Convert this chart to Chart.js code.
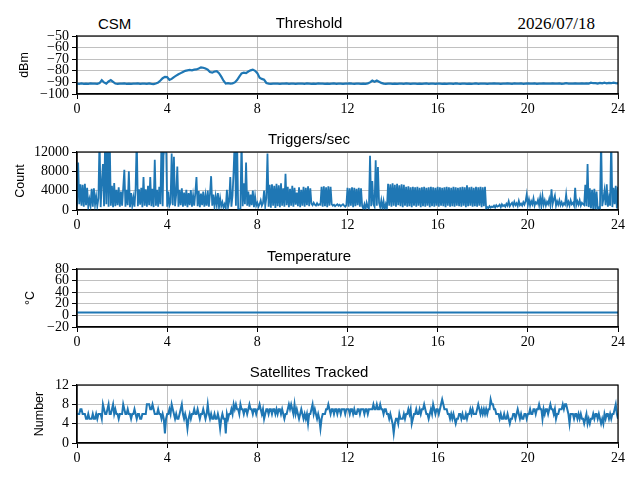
<!DOCTYPE html>
<html>
<head>
<meta charset="utf-8">
<script src="https://cdn.jsdelivr.net/npm/chart.js@4.4.1/dist/chart.umd.min.js"></script>
<style>
    html, body { margin: 0; padding: 0; background: #fff; }
    body { width: 640px; height: 480px; position: relative; overflow: hidden; }
    canvas { position: absolute; left: 0; }
    .note { position: absolute; white-space: nowrap; color: #000; }
    #csm { left: 98px; top: 15.5px; font: 15px "Liberation Sans", sans-serif; line-height: 15px; }
    #date { right: 45px; top: 14.5px; font: 17px "Liberation Serif", serif; line-height: 17px; }
</style>
</head>
<body>
<div class="note" id="csm">CSM</div>
<div class="note" id="date">2026/07/18</div>
<canvas id="threshold-chart" width="640" height="120" style="top:0px"></canvas>
<canvas id="trigger-chart" width="640" height="120" style="top:116px"></canvas>
<canvas id="temperature-chart" width="640" height="120" style="top:233px"></canvas>
<canvas id="satellite-chart" width="640" height="120" style="top:349px"></canvas>
<script>
// x axis: hours of the day
const hourTicks = [0, 4, 8, 12, 16, 20, 24];

// threshold (dBm), one sample every 0.1 h
const thresholdDbm = [
    -91, -91.2, -90.9, -91.3, -91, -91.2, -90.8, -91.1, -91, -91.2,
    -90.6, -88, -90, -91, -89.2, -88, -89.5, -91, -91.2, -91,
    -91.1, -90.9, -91.2, -91, -91.3, -91, -91.1, -90.8, -91.2, -91,
    -91.1, -91.3, -90.9, -91.2, -91.4, -91, -90.2, -88.4, -86.4, -85.2,
    -85.4, -87.8, -87, -85.4, -84.2, -83, -82, -81, -80, -79.6,
    -79.2, -79.6, -79, -78.8, -78, -77, -77.4, -78, -79, -81,
    -81.6, -80.6, -80.4, -82, -85, -88.5, -91, -90.6, -91, -90.8,
    -90, -88, -85, -82.2, -81.6, -82, -80.6, -79.6, -79, -80,
    -82, -86, -87, -87.6, -90.5, -91, -91.2, -91, -91.1, -91,
    -91.2, -91, -91.1, -90.9, -91.2, -91, -91.1, -91.3, -91, -91.1,
    -91, -91.2, -90.9, -91.1, -91.3, -91, -91.2, -90.9, -91.1, -91,
    -91.2, -91, -91.3, -91.1, -90.9, -91.2, -91, -91.1, -91.3, -91,
    -91, -90.9, -91.1, -91.2, -91, -91.1, -91.3, -91, -91.2, -90.8,
    -90, -88.4, -89.4, -88.4, -89.4, -90.4, -91, -91.2, -91, -91.1,
    -91.2, -91, -91.3, -91.1, -91, -91.2, -90.9, -91.1, -91.3, -91,
    -91.1, -91.2, -91, -91.3, -91.1, -90.9, -91.2, -91, -91.1, -91.2,
    -91, -91.1, -91.2, -91, -91.3, -91.1, -91, -91.2, -90.9, -91.1,
    -91.2, -91, -91.1, -91.3, -91, -91.2, -91.1, -90.9, -91.2, -91,
    -91.1, -91, -91.2, -91.1, -91, -90.9, -91.1, -91, -91.2, -91,
    -91.1, -90.9, -91, -91.2, -90.8, -91.1, -91, -90.9, -91.2, -91,
    -90.9, -91.1, -91, -90.8, -91.2, -91, -91.1, -90.9, -91, -91.1,
    -91, -90.8, -91.1, -91, -90.9, -91.2, -91, -90.6, -91, -91.1,
    -91, -90.9, -91.1, -91, -90.8, -91.1, -90.9, -91, -90.2, -90.7,
    -90.6, -91, -90.4, -90.8, -90.3, -90.9, -90.5, -90.7, -90.2, -90.6,
    -90.8
];

// triggers per second, one sample every 0.05 h
const triggerCounts = [
    800, 9800, 1200, 5300, 900, 5200, 700, 5400, 1000, 4600, 600, 2200, 900, 4400, 700, 4500, 1100, 2800, 800, 2400,
    15000, 600, 5600, 9500, 800, 15000, 1200, 15000, 700, 15000, 900, 5000, 600, 5600, 800, 4200, 1000, 4700, 700, 3800,
    900, 4600, 8300, 700, 4200, 1000, 8000, 600, 3500, 900, 2600, 700, 4400, 15000, 800, 4300, 1100, 4600, 600, 6800,
    900, 4300, 700, 5000, 1000, 6800, 800, 4400, 600, 10400, 900, 4200, 700, 4800, 1200, 15000, 800, 15000, 13000, 15000,
    700, 3800, 900, 1500, 11700, 1000, 11000, 800, 3200, 9000, 700, 4200, 1000, 4500, 700, 3600, 900, 4200, 600, 3500,
    1000, 4100, 700, 3000, 900, 3600, 6800, 800, 3900, 600, 3400, 1000, 3800, 700, 3000, 900, 4000, 700, 3300, 7000,
    900, 3200, 700, 2800, 1000, 3500, 600, 2400, 800, 1600, 500, 1200, 400, 4200, 600, 1800, 6800, 700, 3000, 8300,
    15000, 900, 15000, 200, 100, 300, 15000, 800, 5500, 1200, 9800, 900, 3800, 700, 3200, 1000, 4000, 600, 2800, 900,
    1500, 700, 1200, 2000, 900, 1400, 4000, 800, 2500, 11700, 700, 5200, 500, 5300, 900, 5000, 400, 5400, 800, 5100,
    600, 5500, 900, 4500, 700, 7500, 1000, 4800, 600, 4400, 900, 5000, 700, 4600, 1100, 3600, 800, 4700, 600, 4200,
    900, 4800, 700, 4600, 1000, 4900, 800, 4500, 1300, 1000, 1500, 1100, 900, 1400, 1000, 1200, 1100, 4800, 700, 4900,
    800, 4700, 600, 4900, 900, 4800, 1200, 900, 1100, 800, 1000, 1200, 900, 1100, 800, 1000, 1200, 900, 700, 1000,
    4600, 700, 4500, 900, 4700, 600, 4600, 800, 4400, 1000, 4600, 700, 4500, 800, 300, 1200, 100, 1500, 600, 200,
    11200, 800, 6000, 1200, 700, 10300, 900, 8900, 1500, 600, 2000, 300, 1800, 100, 1200, 400, 5400, 900, 5300, 700,
    5500, 900, 5200, 700, 5400, 1000, 5100, 800, 5300, 600, 5200, 900, 4800, 700, 4900, 800, 4700, 600, 4800, 900,
    4700, 700, 4800, 900, 4600, 600, 4700, 800, 4800, 700, 4600, 900, 4700, 600, 4800, 800, 4700, 700, 4600, 900,
    4800, 700, 4700, 900, 4600, 800, 4700, 600, 4800, 900, 4700, 700, 4600, 800, 4800, 700, 4700, 900, 4600, 800,
    4700, 700, 4800, 900, 4700, 600, 5100, 800, 4700, 900, 4800, 700, 4600, 800, 4800, 700, 4700, 900, 4800, 600,
    4700, 800, 4800, 300, 600, 400, 800, 500, 700, 600, 900, 500, 1000, 700, 800, 1100, 600, 1200, 800, 1000,
    700, 1300, 900, 1800, 800, 1200, 1500, 900, 1700, 1000, 1400, 800, 1900, 1000, 1300, 900, 1600, 1100, 1800, 3200,
    1000, 2200, 900, 1800, 1200, 2400, 900, 1600, 1300, 2100, 1000, 2600, 800, 2900, 1100, 2000, 900, 1700, 1200, 2300,
    1000, 4300, 1200, 2200, 3000, 900, 1800, 1100, 2000, 1000, 1600, 900, 1400, 1100, 3200, 1000, 1700, 900, 2000, 1200,
    1500, 900, 4600, 1000, 1800, 1100, 2000, 900, 1500, 1200, 1000, 5200, 800, 9500, 600, 4500, 300, 4200, 200, 4400,
    100, 3800, 200, 500, 300, 15000, 800, 2200, 4000, 1000, 5300, 700, 2500, 900, 15000, 600, 4600, 1200, 5000, 300,
    4800
];

// temperature (°C), hourly
const temperatureC = [5, 5, 5, 5, 5, 5, 5, 5, 5, 5, 5, 5, 5, 5, 5, 5, 5, 5, 5, 5, 5, 5, 5, 5, 5];

// satellites tracked, one sample every 0.05 h
const satellitesTracked = [
    6, 6, 6, 7, 7, 6, 6, 6, 5, 5, 6, 5, 5, 5, 6, 5, 5, 6, 5, 6,
    6, 6, 5, 8, 7, 6, 6, 7, 8, 6, 6, 7, 8, 6, 7, 6, 6, 5, 6, 6,
    6, 8, 7, 6, 6, 7, 6, 6, 5, 6, 6, 7, 6, 5, 6, 6, 5, 5, 6, 6,
    6, 6, 8, 8, 8, 7, 7, 8, 7, 6, 6, 6, 7, 6, 6, 5, 6, 5, 2, 5,
    6, 6, 7, 6, 8, 7, 6, 5, 6, 5, 5, 6, 7, 8, 6, 5, 6, 5, 3, 5,
    6, 5, 6, 6, 7, 6, 6, 7, 6, 5, 6, 6, 7, 6, 5, 6, 8, 6, 5, 6,
    5, 5, 6, 5, 5, 6, 5, 3, 5, 6, 5, 5, 2, 6, 5, 6, 6, 7, 6, 8,
    7, 8, 7, 7, 6, 8, 7, 7, 6, 7, 7, 6, 7, 8, 7, 7, 6, 7, 7, 6,
    7, 7, 8, 7, 6, 7, 5, 6, 7, 7, 6, 7, 7, 6, 7, 7, 6, 7, 6, 7,
    7, 6, 7, 6, 5, 6, 6, 7, 8, 7, 8, 7, 6, 8, 6, 7, 6, 5, 6, 7,
    6, 5, 6, 5, 6, 4, 6, 6, 7, 8, 6, 7, 6, 5, 6, 5, 3, 5, 6, 6,
    6, 7, 7, 8, 7, 6, 7, 7, 6, 7, 7, 6, 7, 7, 6, 7, 7, 7, 6, 7,
    7, 7, 6, 7, 7, 6, 7, 6, 6, 7, 7, 6, 7, 7, 7, 6, 7, 7, 6, 7,
    7, 7, 7, 8, 7, 7, 8, 7, 7, 8, 7, 7, 6, 7, 7, 6, 6, 5, 6, 5,
    4, 2, 4, 5, 5, 4, 6, 5, 5, 5, 6, 5, 6, 6, 7, 6, 7, 4, 5, 6,
    6, 7, 6, 6, 7, 6, 7, 7, 8, 7, 6, 6, 5, 6, 7, 6, 8, 7, 6, 7,
    7, 6, 7, 8, 9, 8, 7, 7, 7, 6, 6, 5, 6, 5, 6, 5, 4, 5, 5, 6,
    6, 5, 6, 5, 5, 6, 5, 6, 6, 7, 6, 7, 6, 6, 6, 7, 8, 7, 6, 7,
    6, 7, 6, 7, 6, 7, 7, 9, 8, 8, 7, 7, 6, 6, 6, 5, 6, 5, 5, 6,
    5, 5, 6, 5, 4, 5, 5, 6, 6, 5, 6, 7, 6, 5, 6, 5, 5, 6, 6, 5,
    6, 6, 7, 6, 6, 7, 7, 6, 7, 7, 8, 7, 7, 5, 7, 6, 7, 7, 6, 7,
    8, 7, 7, 6, 7, 5, 6, 6, 7, 7, 7, 8, 7, 8, 8, 7, 6, 4, 6, 6,
    6, 5, 6, 6, 5, 6, 5, 6, 5, 5, 4, 5, 6, 4, 5, 4, 5, 5, 6, 5,
    6, 6, 5, 6, 5, 4, 5, 4, 6, 5, 6, 6, 5, 6, 5, 6, 6, 7, 8, 6,
    5
];

const LINE_COLOR = '#1f77b4';
const SERIF = '"Liberation Serif", serif';
const SANS = '"Liberation Sans", sans-serif';

function minusSign(value) {
    return String(value).replace('-', '\u2212');
}

// matplotlib style frame on all four sides
const frameBox = {
    id: 'frameBox',
    afterDatasetsDraw(chart) {
        const { ctx, chartArea: a } = chart;
        ctx.save();
        ctx.strokeStyle = '#000';
        ctx.lineWidth = 1.2;
        ctx.strokeRect(a.left, a.top, a.right - a.left, a.bottom - a.top);
        ctx.restore();
    }
};

function renderPanel(canvasId, opts) {
    const ctx = document.getElementById(canvasId);
    const step = 24 / (opts.values.length - 1);
    const points = opts.values.map((v, i) => ({ x: i * step, y: v }));

    return new Chart(ctx, {
        type: 'line',
        data: {
            datasets: [{
                data: points,
                borderColor: LINE_COLOR,
                borderWidth: opts.lineWidth,
                pointRadius: 0,
                tension: 0,
                fill: false
            }]
        },
        options: {
            responsive: false,
            animation: false,
            devicePixelRatio: 1,
            layout: { padding: { left: 0, right: 22, top: 0, bottom: 0 } },
            plugins: {
                legend: { display: false },
                tooltip: { enabled: false },
                title: {
                    display: true,
                    text: opts.title,
                    color: '#000',
                    font: { family: SANS, size: 15, weight: 'normal' },
                    padding: { top: 14.5, bottom: 3.5 }
                }
            },
            scales: {
                x: {
                    type: 'linear',
                    min: 0,
                    max: 24,
                    afterBuildTicks: s => { s.ticks = hourTicks.map(v => ({ value: v })); },
                    ticks: { color: '#000', font: { family: SERIF, size: 14 }, padding: 2, maxRotation: 0 },
                    grid: { color: '#b0b0b0', lineWidth: 0.8, tickColor: '#000', tickLength: 5, tickWidth: 1 },
                    border: { color: '#000', width: 1.2 },
                    afterFit: s => { s.height = 26; }
                },
                y: {
                    min: opts.yMin,
                    max: opts.yMax,
                    ticks: {
                        stepSize: opts.yStep,
                        autoSkip: false,
                        color: '#000',
                        font: { family: SERIF, size: 14 },
                        padding: 3,
                        callback: minusSign
                    },
                    grid: { color: '#b0b0b0', lineWidth: 0.8, tickColor: '#000', tickLength: 5, tickWidth: 1 },
                    border: { color: '#000', width: 1.2 },
                    title: {
                        display: true,
                        text: opts.yLabel,
                        color: '#000',
                        font: { family: SANS, size: 12.5 },
                        padding: { top: opts.labelPad, bottom: 0 }
                    },
                    afterFit: s => { s.width = 77; }
                }
            }
        },
        plugins: [frameBox]
    });
}

renderPanel('threshold-chart', {
    values: thresholdDbm, title: 'Threshold', yLabel: 'dBm',
    yMin: -100, yMax: -50, yStep: 10, labelPad: 17, lineWidth: 2.2
});
renderPanel('trigger-chart', {
    values: triggerCounts, title: 'Triggers/sec', yLabel: 'Count',
    yMin: 0, yMax: 12000, yStep: 4000, labelPad: 13, lineWidth: 1.8
});
renderPanel('temperature-chart', {
    values: temperatureC, title: 'Temperature', yLabel: '\u00B0C',
    yMin: -20, yMax: 80, yStep: 20, labelPad: 23, lineWidth: 2.2
});
renderPanel('satellite-chart', {
    values: satellitesTracked, title: 'Satellites Tracked', yLabel: 'Number',
    yMin: 0, yMax: 12, yStep: 4, labelPad: 32, lineWidth: 2
});
</script>
</body>
</html>
